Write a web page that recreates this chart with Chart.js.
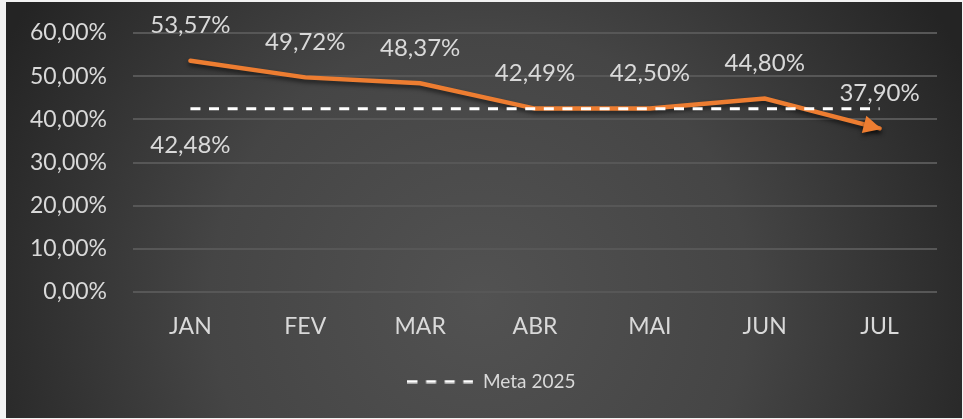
<!DOCTYPE html>
<html lang="pt-BR">
<head>
<meta charset="utf-8">
<title>Meta 2025</title>
<script src="https://cdn.jsdelivr.net/npm/chart.js@4.4.1/dist/chart.umd.min.js"></script>
<style>
  html, body { margin: 0; padding: 0; background: #f2f2f2; }
  #grafico { display: block; }
</style>
</head>
<body>
<canvas id="grafico" width="963" height="419"></canvas>
<script>
// Dados do gráfico
const MESES      = ['JAN', 'FEV', 'MAR', 'ABR', 'MAI', 'JUN', 'JUL'];
const REALIZADO  = [53.57, 49.72, 48.37, 42.49, 42.50, 44.80, 37.90];
const META_2025  = [42.48, 42.48, 42.48, 42.48, 42.48, 42.48, 42.48];
const Y_MIN = 0, Y_MAX = 60, Y_PASSO = 10;

const LARANJA = '#ED7D31';
const TEXTO   = '#d9d9d9';
const FONTE   = 'Lato, "Open Sans", sans-serif';
const TRACO   = [10, 8.6];

const pct = (v) => v.toFixed(2).replace('.', ',') + '%';

// Ícone tracejado da legenda (a legenda nativa desenha a linha contínua)
const iconeMeta = document.createElement('canvas');
iconeMeta.width = 66;
iconeMeta.height = 4;
(() => {
  const c = iconeMeta.getContext('2d');
  c.strokeStyle = '#ffffff';
  c.lineWidth = 3;
  c.setLineDash(TRACO);
  c.beginPath();
  c.moveTo(0, 2);
  c.lineTo(66, 2);
  c.stroke();
})();

// Fundo escuro com degradê radial
const fundo = {
  id: 'fundo',
  beforeDraw(chart) {
    const { ctx, width, height } = chart;
    ctx.save();
    ctx.fillStyle = '#f2f2f2';
    ctx.fillRect(0, 0, width, height);
    const g = ctx.createRadialGradient(480, 300, 0, 480, 300, 540);
    g.addColorStop(0, '#525252');
    g.addColorStop(0.5, '#454545');
    g.addColorStop(1, '#242424');
    ctx.fillStyle = g;
    ctx.fillRect(6, 2, width - 7, height - 3);
    ctx.restore();
  }
};

// legenda centralizada na largura toda (não só até o padding direito)
const centraLegenda = {
  id: 'centraLegenda',
  afterLayout(chart) {
    const lg = chart.legend;
    if (!lg) return;
    lg.left += 23;
    lg.right += 23;
  }
};

// Sombra na linha laranja
const sombra = {
  id: 'sombra',
  beforeDatasetDraw(chart, args) {
    if (args.index !== 0) return;
    const ctx = chart.ctx;
    ctx.save();
    ctx.shadowColor = 'rgba(0,0,0,0.55)';
    ctx.shadowBlur = 4;
    ctx.shadowOffsetY = 3;
  },
  afterDatasetDraw(chart, args) {
    if (args.index !== 0) return;
    chart.ctx.restore();
  }
};

// Seta no último ponto + rótulos de dados
const rotulos = {
  id: 'rotulos',
  afterDatasetsDraw(chart) {
    const ctx = chart.ctx;
    const pts = chart.getDatasetMeta(0).data;
    const p = pts[pts.length - 1], q = pts[pts.length - 2];
    const ang = Math.atan2(p.y - q.y, p.x - q.x);

    ctx.save();
    ctx.shadowColor = 'rgba(0,0,0,0.55)';
    ctx.shadowBlur = 4;
    ctx.shadowOffsetY = 3;
    ctx.translate(p.x, p.y);
    ctx.rotate(ang);
    ctx.fillStyle = LARANJA;
    ctx.beginPath();
    ctx.moveTo(2, 0);
    ctx.lineTo(-16, -9);
    ctx.lineTo(-16, 9);
    ctx.closePath();
    ctx.fill();
    ctx.restore();

    ctx.save();
    ctx.font = '24px ' + FONTE;
    ctx.fillStyle = TEXTO;
    ctx.textAlign = 'center';
    ctx.textBaseline = 'middle';
    pts.forEach((pt, i) => {
      ctx.fillText(pct(REALIZADO[i]), pt.x, pt.y - 35);
    });
    const m = chart.getDatasetMeta(1).data[0];
    ctx.fillText(pct(META_2025[0]), m.x, m.y + 37);
    ctx.restore();
  }
};

new Chart(document.getElementById('grafico'), {
  type: 'line',
  data: {
    labels: MESES,
    datasets: [
      {
        label: 'Realizado',
        data: REALIZADO,
        borderColor: LARANJA,
        borderWidth: 4.5,
        borderCapStyle: 'round',
        borderJoinStyle: 'miter',
        pointRadius: 0,
        tension: 0,
        order: 2,
      },
      {
        label: 'Meta 2025',
        data: META_2025,
        borderColor: '#ffffff',
        borderWidth: 3,
        borderDash: TRACO,
        pointRadius: 0,
        pointStyle: iconeMeta,
        tension: 0,
        order: 1,
      },
    ],
  },
  options: {
    responsive: false,
    devicePixelRatio: 1,
    animation: false,
    layout: { padding: { left: 0, right: 26, top: 33, bottom: 18 } },
    plugins: {
      tooltip: { enabled: false },
      legend: {
        position: 'bottom',
        labels: {
          filter: (item) => item.text === 'Meta 2025',
          usePointStyle: true,
          pointStyleWidth: 66,
          color: TEXTO,
          font: { family: FONTE, size: 19 },
          padding: 10,
        },
      },
    },
    scales: {
      x: {
        offset: true,
        grid: { display: false, drawTicks: false },
        border: { display: false },
        ticks: { color: TEXTO, font: { family: FONTE, size: 23 }, padding: 21 },
        afterFit: (s) => { s.height = 70; },
      },
      y: {
        min: Y_MIN,
        max: Y_MAX,
        grid: { color: '#575757', lineWidth: 2, drawTicks: false },
        border: { display: false },
        ticks: {
          stepSize: Y_PASSO,
          color: TEXTO,
          font: { family: FONTE, size: 23 },
          padding: 26,
          callback: (v) => pct(v),
        },
        afterFit: (s) => {
          s.width = 133;
          // o padding dos ticks não deve empurrar a área do gráfico
          s.paddingTop = 14;
          s.paddingBottom = 14;
        },
      },
    },
  },
  plugins: [fundo, centraLegenda, sombra, rotulos],
});
</script>
</body>
</html>
